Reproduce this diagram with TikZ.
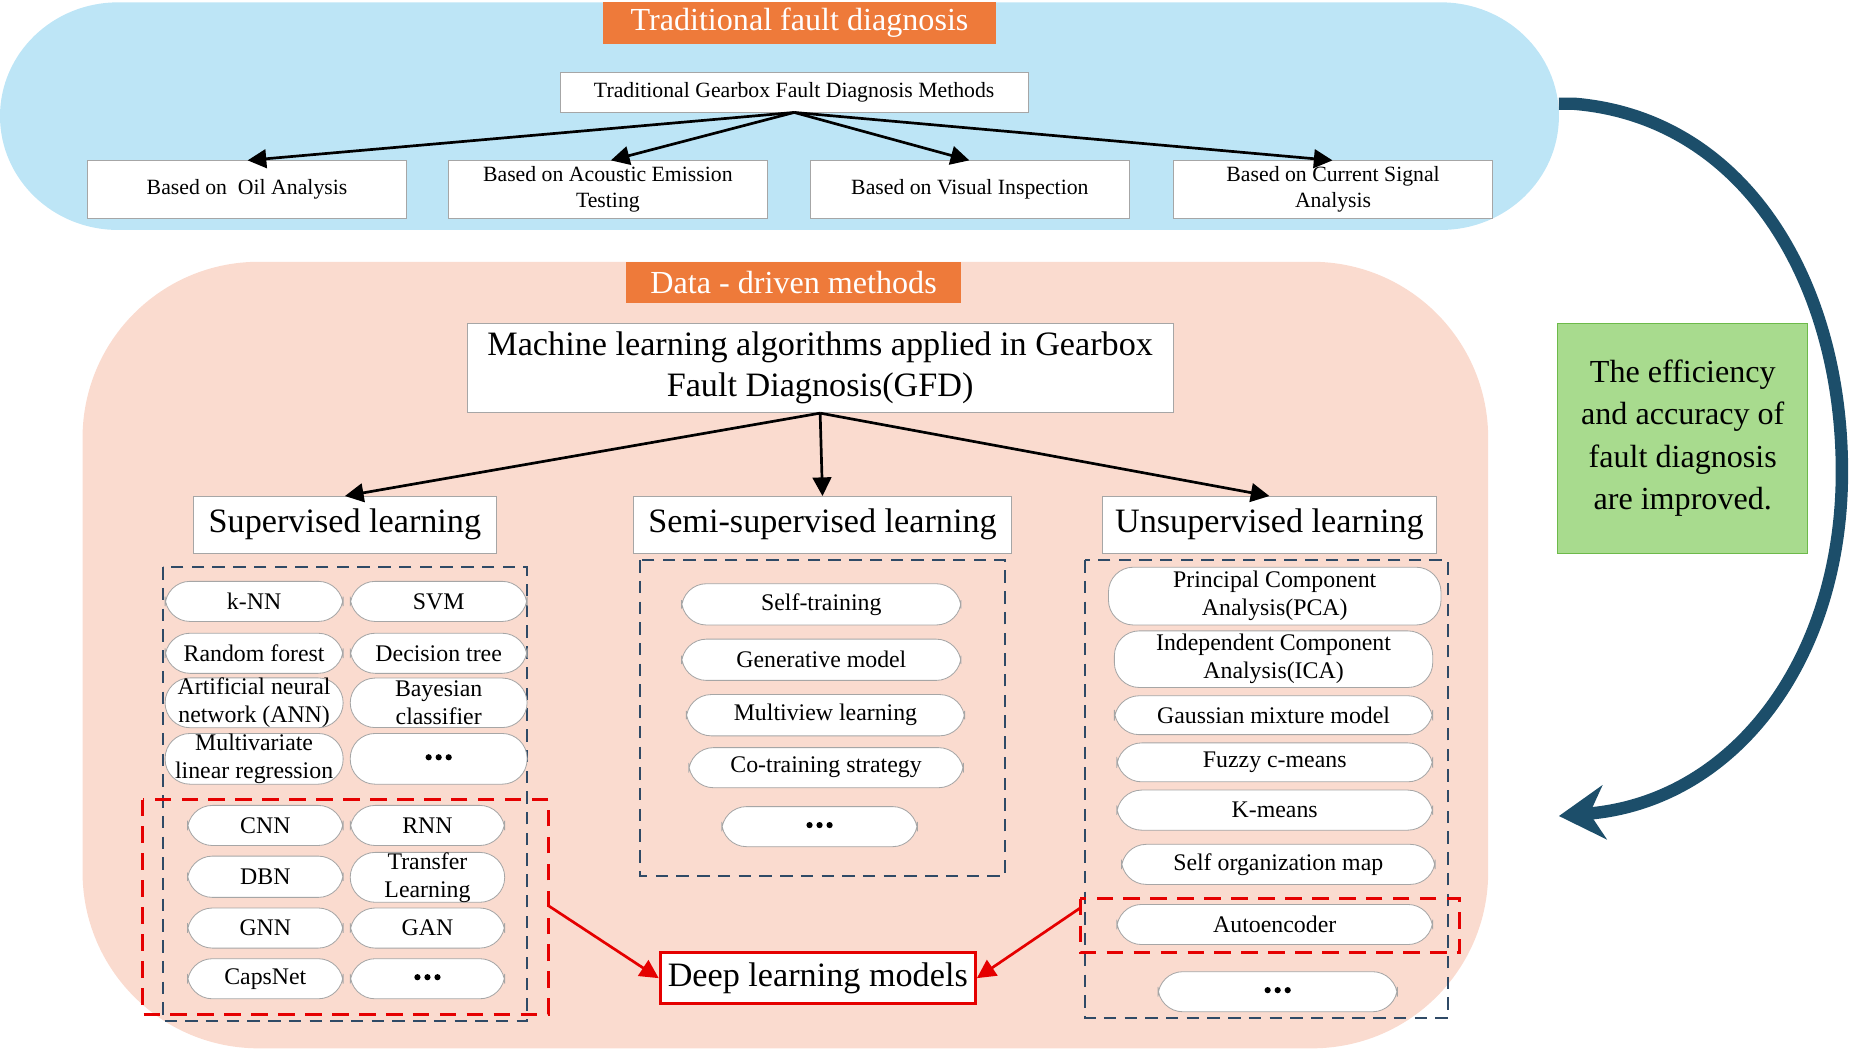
\documentclass[tikz,border=0pt]{standalone}
\usepackage{fontspec}
\setmainfont{Liberation Serif}
\usetikzlibrary{arrows.meta}
\definecolor{lblue}{HTML}{BDE5F6}
\definecolor{lpink}{HTML}{FADBCF}
\definecolor{org}{HTML}{EE7A3A}
\definecolor{grn}{HTML}{A8DB8E}
\definecolor{dgrn}{HTML}{6DBA4A}
\definecolor{dteal}{HTML}{1C4E6A}
\definecolor{dblue}{HTML}{2F4A66}
\tikzset{
 box/.style={draw=gray!70, fill=white, align=center, inner sep=0pt, font=\fontsize{10.5}{12.5}\selectfont},
 pill/.style={box, rounded corners=12pt, font=\fontsize{11.5}{13.5}\selectfont},
 head/.style={box, font=\fontsize{16.5}{20}\selectfont},
 title/.style={fill=org, text=white, inner sep=0pt, font=\fontsize{15.5}{19}\selectfont},
 dashbox/.style={draw=dblue, line width=0.9pt, dash pattern=on 6pt off 4pt},
 reddash/.style={draw=red!90!black, line width=1.4pt, dash pattern=on 8pt off 5pt},
 arr/.style={-{Triangle[length=9pt,width=9pt]}, line width=1.3pt},
 rarr/.style={-{Triangle[length=9pt,width=9pt]}, line width=1.3pt, red!90!black},
}
\newcommand\bx[7][box]{\node[#1, minimum width={(#5-#3)*0.02cm}, minimum height={(#6-#4)*0.02cm}] (#2) at ({(#3+#5)/2},{(#4+#6)/2}) {#7};}
\newcommand\dts{\tikz[baseline=-3pt]{\foreach \i in {0,1,2} \fill (\i*0.17cm,0) circle (1.5pt);}}
\begin{document}
\begin{tikzpicture}[x=0.02cm,y=-0.02cm]
\useasboundingbox (0,0) rectangle (1568,889);
% backgrounds
\fill[lblue] (100,2) -- (1222,2) arc[start angle=-90,end angle=90,x radius=100,y radius=96.5] -- (100,195) arc[start angle=90,end angle=270,x radius=100,y radius=96.5] -- cycle;
\fill[lpink, rounded corners=85] (70,222) rectangle (1262,889);
% top part
\bx[title]{t1}{511}{2}{845}{37}{Traditional fault diagnosis}
\bx{tm}{475}{61}{872}{95}{Traditional Gearbox Fault Diagnosis Methods}
\bx{b1}{74}{136}{345}{185}{Based on\ \ Oil Analysis}
\bx{b2}{380}{136}{651}{185}{Based on Acoustic Emission\\Testing}
\bx{b3}{687}{136}{958}{185}{Based on Visual Inspection}
\bx{b4}{995}{136}{1266}{185}{Based on Current Signal\\Analysis}
\foreach \n/\x in {b1/210,b2/518,b3/822,b4/1130}
  \draw[arr] (tm.south) -- (\x,136);
% data-driven
\bx[title]{t2}{531}{222}{815}{257}{Data - driven methods}
\bx[head]{ml}{396}{274}{995}{350}{Machine learning algorithms applied in Gearbox\\Fault Diagnosis(GFD)}
\bx[head]{sl}{164}{421}{421}{469}{Supervised learning}
\bx[head]{ss}{537}{421}{858}{469}{Semi-supervised learning}
\bx[head]{ul}{935}{421}{1218}{469}{Unsupervised learning}
\draw[arr] (ml.south) -- (sl.north);
\draw[arr] (ml.south) -- (ss.north);
\draw[arr] (ml.south) -- (ul.north);
\draw[dashbox] (138,481) rectangle (447,866);
\draw[dashbox] (543,475) rectangle (852,743);
\draw[dashbox] (920,475) rectangle (1228,863);
% supervised pills
\bx[pill]{p1}{140}{493}{291}{527}{k-NN}
\bx[pill]{p2}{297}{493}{447}{527}{SVM}
\bx[pill]{p3}{140}{537}{291}{571}{Random forest}
\bx[pill]{p4}{297}{537}{447}{571}{Decision tree}
\bx[pill]{p5}{140}{575}{291}{617}{Artificial neural\\network (ANN)}
\bx[pill]{p6}{297}{575}{447}{617}{Bayesian\\classifier}
\bx[pill]{p7}{140}{622}{291}{665}{Multivariate\\linear regression}
\bx[pill]{p8}{297}{622}{447}{665}{\dts}
\bx[pill]{d1}{159}{683}{291}{717}{CNN}
\bx[pill]{d2}{297}{683}{428}{717}{RNN}
\bx[pill]{d3}{159}{726}{291}{761}{DBN}
\bx[pill]{d4}{297}{723}{428}{765}{Transfer\\Learning}
\bx[pill]{d5}{159}{770}{291}{804}{GNN}
\bx[pill]{d6}{297}{770}{428}{804}{GAN}
\bx[pill]{d7}{159}{813}{291}{847}{CapsNet}
\bx[pill]{d8}{297}{813}{428}{847}{\dts}
\draw[reddash] (121,678) rectangle (465,860);
\coordinate (rl) at (465,768);
% semi
\bx[pill]{s1}{578}{495}{815}{530}{Self-training}
\bx[pill]{s2}{578}{542}{815}{577}{Generative model}
\bx[pill]{s3}{582}{589}{818}{624}{Multiview learning}
\bx[pill]{s4}{584}{634}{817}{668}{Co-training strategy}
\bx[pill]{s5}{612}{684}{778}{718}{\dts}
% unsupervised
\bx[pill]{u1}{940}{481}{1222}{530}{Principal Component\\Analysis(PCA)}
\bx[pill]{u2}{945}{535}{1215}{583}{Independent Component\\Analysis(ICA)}
\bx[pill]{u3}{945}{590}{1215}{623}{Gaussian mixture model}
\bx[pill]{u4}{947}{630}{1215}{663}{Fuzzy c-means}
\bx[pill]{u5}{947}{670}{1215}{704}{K-means}
\bx[pill]{u6}{951}{716}{1217}{750}{Self organization map}
\bx[pill]{u7}{947}{767}{1215}{801}{Autoencoder}
\bx[pill]{u8}{982}{824}{1185}{858}{\dts}
\draw[reddash] (916,762) rectangle (1238,808);
\coordinate (rr) at (916,770);
% deep learning
\node[draw=red!90!black, line width=1.6pt, fill=white, minimum width=267*0.02cm, minimum height=43*0.02cm, inner sep=0pt, font=\fontsize{16.5}{20}\selectfont] (dl) at (693.5,829.5) {Deep learning models};
\draw[rarr] (rl) -- (dl.west);
\draw[rarr] (rr) -- (dl.east);
% green
\node[draw=dgrn, fill=grn, minimum width=212*0.02cm, minimum height=195*0.02cm, inner sep=0pt, align=center, font=\fontsize{15.5}{20.5}\selectfont] (g) at (1427,371.5) {The efficiency\\and accuracy of\\fault diagnosis\\are improved.};
% curved arrow
\coordinate (ca) at (1322,88);
\coordinate (cb) at (1322,692);
\draw[dteal, line width=6pt, -{Stealth[length=22pt,width=26pt]}] (ca) -- (1335,88) .. controls (1480,100) and (1562,240) .. (1562,400) .. controls (1562,560) and (1470,680) .. (cb);
\end{tikzpicture}
\end{document}
